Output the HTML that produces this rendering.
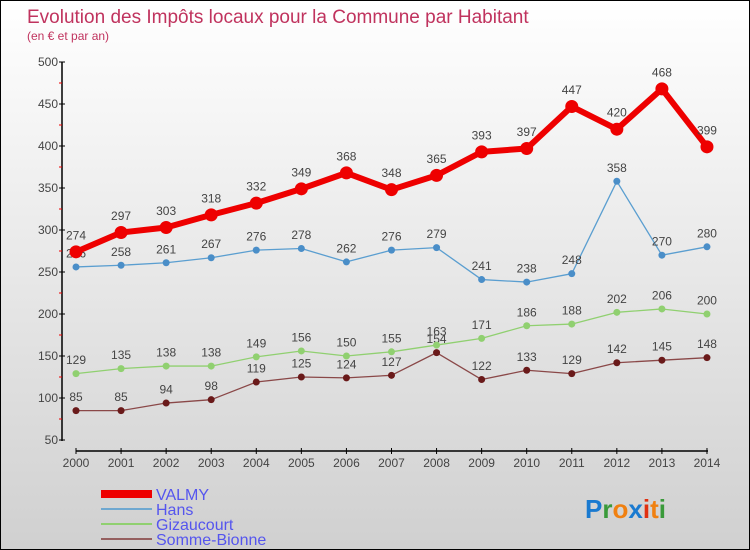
<!DOCTYPE html>
<html><head><meta charset="utf-8"><style>
body{margin:0}
#c{position:relative;width:748px;height:548px;border:1px solid #000;background:linear-gradient(#fff,#d0d0d0);font-family:"Liberation Sans",sans-serif;overflow:hidden}
</style></head><body>
<div id="c">
<svg id="s" width="748" height="548" style="position:absolute;left:0;top:0" font-family="Liberation Sans, sans-serif">
<text x="26" y="22" font-size="19" fill="#c0335e">Evolution des Impôts locaux pour la Commune par Habitant</text>
<text x="26" y="39" font-size="12" fill="#c0335e">(en € et par an)</text>
<g id="axes"></g><g id="series"></g>
<g>
<rect x="100" y="489" width="51" height="8" fill="#e00"/>
<text x="155" y="499" font-size="16" fill="#5555ee">VALMY</text>
<line x1="100" y1="508" x2="151" y2="508" stroke="#6fa8d0" stroke-width="2"/>
<text x="155" y="514" font-size="16" fill="#5555ee">Hans</text>
<line x1="100" y1="523" x2="151" y2="523" stroke="#90d070" stroke-width="2"/>
<text x="155" y="529" font-size="16" fill="#5555ee">Gizaucourt</text>
<line x1="100" y1="538" x2="151" y2="538" stroke="#956060" stroke-width="2"/>
<text x="155" y="544" font-size="16" fill="#5555ee">Somme-Bionne</text>
</g>
<g font-size="26" font-weight="bold">
<text x="584" y="517"><tspan fill="#1a7ad0">P</tspan><tspan fill="#3a9a3a">r</tspan><tspan fill="#f08010">o</tspan><tspan fill="#1a7ad0">x</tspan><tspan fill="#e03010">i</tspan><tspan fill="#f08010">t</tspan><tspan fill="#3a9a3a">i</tspan></text>
</g>
</svg>
</div>
<script>
const years=[2000,2001,2002,2003,2004,2005,2006,2007,2008,2009,2010,2011,2012,2013,2014];
const valmy=[274,297,303,318,332,349,368,348,365,393,397,447,420,468,399];
const hans=[256,258,261,267,276,278,262,276,279,241,238,248,358,270,280];
const gizaucourt=[129,135,138,138,149,156,150,155,163,171,186,188,202,206,200];
const sommeBionne=[85,85,94,98,119,125,124,127,154,122,133,129,142,145,148];
const yTicks=[50,100,150,200,250,300,350,400,450,500];
const NS="http://www.w3.org/2000/svg";
const x=i=>75+i*45.07;
const y=v=>61+(500-v)*0.84;
function el(t,a,p){const e=document.createElementNS(NS,t);for(const k in a)e.setAttribute(k,a[k]);p.appendChild(e);return e;}
const ax=document.getElementById('axes');
const yl=el('line',{x1:61,y1:61,x2:61,y2:440,stroke:'#000','stroke-width':1.5},ax);


const xl=el('line',{x1:75,y1:450,x2:707,y2:450,stroke:'#000','stroke-width':1.5},ax);


yTicks.forEach((v,i)=>{
 el('line',{x1:58,y1:y(v),x2:64,y2:y(v),stroke:'#000'},ax);
 if(i<yTicks.length-1) el('line',{x1:58,y1:y(v+25),x2:61,y2:y(v+25),stroke:'#e00'},ax);
 const t=el('text',{x:57,y:y(v)+4,'font-size':12,fill:'#444','text-anchor':'end'},ax);t.textContent=v;
 
 
});
years.forEach((yr,i)=>{
 el('line',{x1:x(i),y1:447,x2:x(i),y2:453,stroke:'#000'},ax);
 const t=el('text',{x:x(i),y:466,'font-size':12,fill:'#444','text-anchor':'middle'},ax);t.textContent=yr;
 
 
});
const sg=document.getElementById('series');
function series(data,name,color,w,r,dot){
 const g=el('g',{},sg);
 
 
 el('polyline',{points:data.map((v,i)=>x(i)+','+y(v)).join(' '),fill:'none',stroke:color,'stroke-width':w,'stroke-linejoin':'round'},g);
 data.forEach((v,i)=>{
  const c=el('circle',{cx:x(i),cy:y(v),r:r,fill:dot},g);
  
  
  const t=el('text',{x:x(i),y:y(v)-(r+6),'font-size':12,fill:'#444','text-anchor':'middle'},g);t.textContent=v;
  
  
 });
}
series(sommeBionne,'somme-bionne','#8a4848',1.3,3.5,'#6a1a1a');
series(gizaucourt,'gizaucourt','#90d070',1.3,3.5,'#90d070');
series(hans,'hans','#5a9ed0',1.3,3.5,'#4a8ec8');
series(valmy,'valmy','#e00',6,6.5,'#e00');
</script>
</body></html>
